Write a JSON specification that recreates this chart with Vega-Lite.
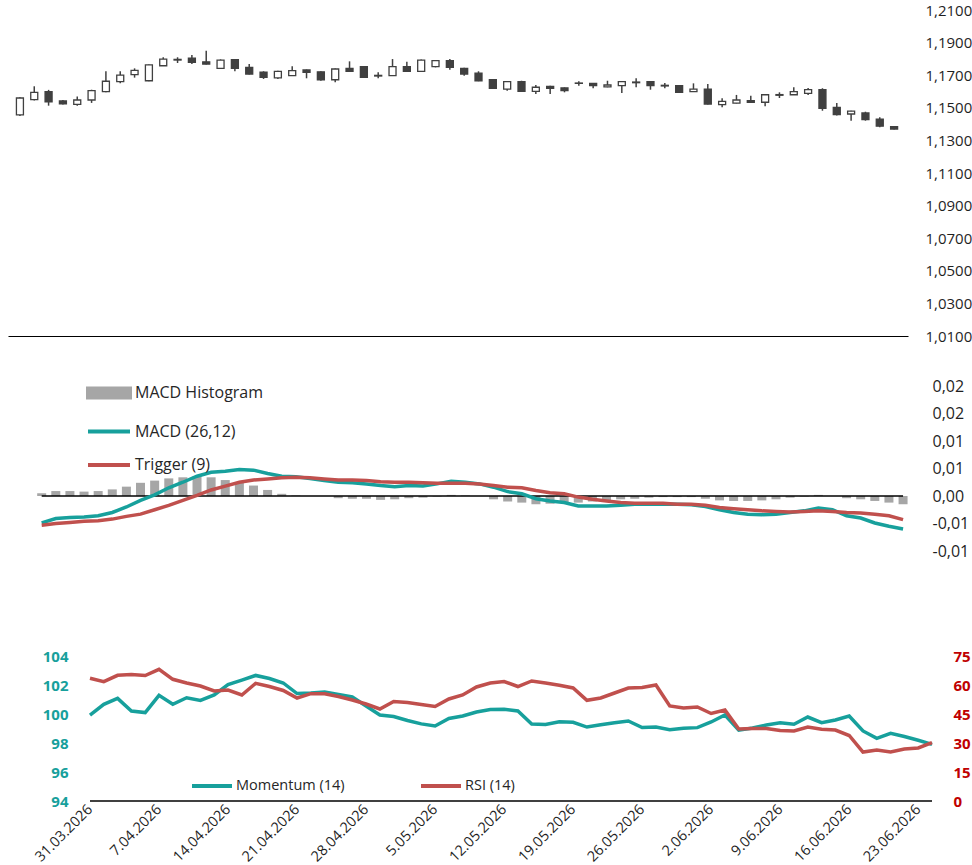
{
  "$schema": "https://vega.github.io/schema/vega-lite/v6.json",
  "padding": {"left": 8, "top": 3, "right": 0, "bottom": 0},
  "background": "white",
  "config": {
    "view": {"stroke": null},
    "font": "Open Sans",
    "axis": {"grid": false, "domain": false, "ticks": false, "tickSize": 0, "minExtent": 0, "labelColor": "#1f1f1f", "labelFont": "Open Sans", "labelOverlap": false, "labelFlush": false},
    "legend": {"labelFont": "Open Sans", "labelColor": "#262626", "padding": 0}
  },
  "data": {"values": [
    {"idx":0,"date":"31.03.2026","open":1.1456,"high":1.1565,"low":1.1450,"close":1.1560,"macd":-0.0049,"trigger":-0.0053,"hist":0.0005,"momentum":99.93,"rsi":63.47},
    {"idx":1,"date":"1.04.2026","open":1.1550,"high":1.1632,"low":1.1545,"close":1.1595,"macd":-0.0041,"trigger":-0.0050,"hist":0.0009,"momentum":100.67,"rsi":61.71},
    {"idx":2,"date":"2.04.2026","open":1.1599,"high":1.1610,"low":1.1513,"close":1.1537,"macd":-0.0039,"trigger":-0.0048,"hist":0.0009,"momentum":101.08,"rsi":65.02},
    {"idx":3,"date":"3.04.2026","open":1.1542,"high":1.1548,"low":1.1520,"close":1.1525,"macd":-0.0038,"trigger":-0.0046,"hist":0.0008,"momentum":100.21,"rsi":65.43},
    {"idx":4,"date":"6.04.2026","open":1.1521,"high":1.1570,"low":1.1513,"close":1.1548,"macd":-0.0036,"trigger":-0.0045,"hist":0.0009,"momentum":100.10,"rsi":64.91},
    {"idx":5,"date":"7.04.2026","open":1.1548,"high":1.1611,"low":1.1530,"close":1.1605,"macd":-0.0030,"trigger":-0.0042,"hist":0.0012,"momentum":101.29,"rsi":68.12},
    {"idx":6,"date":"8.04.2026","open":1.1599,"high":1.1724,"low":1.1595,"close":1.1663,"macd":-0.0020,"trigger":-0.0037,"hist":0.0017,"momentum":100.67,"rsi":62.95},
    {"idx":7,"date":"9.04.2026","open":1.1660,"high":1.1724,"low":1.1650,"close":1.1701,"macd":-0.0008,"trigger":-0.0033,"hist":0.0024,"momentum":101.12,"rsi":61.03},
    {"idx":8,"date":"10.04.2026","open":1.1703,"high":1.1742,"low":1.1685,"close":1.1730,"macd":0.0002,"trigger":-0.0025,"hist":0.0028,"momentum":100.94,"rsi":59.48},
    {"idx":9,"date":"13.04.2026","open":1.1666,"high":1.1766,"low":1.1663,"close":1.1763,"macd":0.0015,"trigger":-0.0017,"hist":0.0032,"momentum":101.31,"rsi":56.90},
    {"idx":10,"date":"14.04.2026","open":1.1758,"high":1.1810,"low":1.1756,"close":1.1799,"macd":0.0025,"trigger":-0.0008,"hist":0.0034,"momentum":102.03,"rsi":57.41},
    {"idx":11,"date":"15.04.2026","open":1.1797,"high":1.1810,"low":1.1775,"close":1.1793,"macd":0.0036,"trigger":0.0001,"hist":0.0036,"momentum":102.34,"rsi":54.83},
    {"idx":12,"date":"16.04.2026","open":1.1805,"high":1.1824,"low":1.1769,"close":1.1779,"macd":0.0043,"trigger":0.0011,"hist":0.0034,"momentum":102.66,"rsi":60.88},
    {"idx":13,"date":"17.04.2026","open":1.1782,"high":1.1850,"low":1.1765,"close":1.1768,"macd":0.0045,"trigger":0.0018,"hist":0.0029,"momentum":102.45,"rsi":59.22},
    {"idx":14,"date":"20.04.2026","open":1.1742,"high":1.1797,"low":1.1738,"close":1.1793,"macd":0.0048,"trigger":0.0025,"hist":0.0024,"momentum":102.14,"rsi":57.16},
    {"idx":15,"date":"21.04.2026","open":1.1795,"high":1.1797,"low":1.1724,"close":1.1742,"macd":0.0047,"trigger":0.0029,"hist":0.0019,"momentum":101.41,"rsi":53.28},
    {"idx":16,"date":"22.04.2026","open":1.1748,"high":1.1769,"low":1.1705,"close":1.1707,"macd":0.0041,"trigger":0.0031,"hist":0.0011,"momentum":101.45,"rsi":55.50},
    {"idx":17,"date":"23.04.2026","open":1.1718,"high":1.1724,"low":1.1677,"close":1.1687,"macd":0.0036,"trigger":0.0033,"hist":0.0004,"momentum":101.52,"rsi":55.50},
    {"idx":18,"date":"24.04.2026","open":1.1683,"high":1.1727,"low":1.1677,"close":1.1724,"macd":0.0035,"trigger":0.0034,"hist":0.0001,"momentum":101.34,"rsi":54.05},
    {"idx":19,"date":"27.04.2026","open":1.1697,"high":1.1755,"low":1.1695,"close":1.1728,"macd":0.0032,"trigger":0.0033,"hist":0.0000,"momentum":101.17,"rsi":52.24},
    {"idx":20,"date":"28.04.2026","open":1.1732,"high":1.1735,"low":1.1681,"close":1.1718,"macd":0.0028,"trigger":0.0031,"hist":0.0000,"momentum":100.55,"rsi":50.17},
    {"idx":21,"date":"29.04.2026","open":1.1721,"high":1.1724,"low":1.1666,"close":1.1672,"macd":0.0025,"trigger":0.0029,"hist":-0.0004,"momentum":99.93,"rsi":47.59},
    {"idx":22,"date":"30.04.2026","open":1.1672,"high":1.1741,"low":1.1656,"close":1.1738,"macd":0.0024,"trigger":0.0029,"hist":-0.0005,"momentum":99.83,"rsi":51.47},
    {"idx":23,"date":"1.05.2026","open":1.1742,"high":1.1785,"low":1.1720,"close":1.1724,"macd":0.0022,"trigger":0.0028,"hist":-0.0005,"momentum":99.55,"rsi":50.95},
    {"idx":24,"date":"4.05.2026","open":1.1752,"high":1.1755,"low":1.1684,"close":1.1687,"macd":0.0019,"trigger":0.0026,"hist":-0.0007,"momentum":99.32,"rsi":49.91},
    {"idx":25,"date":"5.05.2026","open":1.1699,"high":1.1718,"low":1.1681,"close":1.1695,"macd":0.0017,"trigger":0.0025,"hist":-0.0006,"momentum":99.17,"rsi":48.88},
    {"idx":26,"date":"6.05.2026","open":1.1697,"high":1.1799,"low":1.1695,"close":1.1752,"macd":0.0019,"trigger":0.0025,"hist":-0.0004,"momentum":99.69,"rsi":52.76},
    {"idx":27,"date":"7.05.2026","open":1.1752,"high":1.1783,"low":1.1721,"close":1.1724,"macd":0.0018,"trigger":0.0024,"hist":-0.0003,"momentum":99.86,"rsi":54.83},
    {"idx":28,"date":"8.05.2026","open":1.1724,"high":1.1796,"low":1.1720,"close":1.1793,"macd":0.0022,"trigger":0.0023,"hist":-0.0001,"momentum":100.14,"rsi":58.97},
    {"idx":29,"date":"11.05.2026","open":1.1752,"high":1.1793,"low":1.1748,"close":1.1789,"macd":0.0027,"trigger":0.0023,"hist":0.0002,"momentum":100.31,"rsi":61.03},
    {"idx":30,"date":"12.05.2026","open":1.1789,"high":1.1799,"low":1.1734,"close":1.1748,"macd":0.0025,"trigger":0.0023,"hist":0.0001,"momentum":100.33,"rsi":61.81},
    {"idx":31,"date":"13.05.2026","open":1.1742,"high":1.1745,"low":1.1697,"close":1.1707,"macd":0.0022,"trigger":0.0022,"hist":0.0000,"momentum":100.21,"rsi":59.22},
    {"idx":32,"date":"14.05.2026","open":1.1713,"high":1.1724,"low":1.1663,"close":1.1666,"macd":0.0016,"trigger":0.0019,"hist":-0.0006,"momentum":99.31,"rsi":62.07},
    {"idx":33,"date":"15.05.2026","open":1.1672,"high":1.1675,"low":1.1617,"close":1.1620,"macd":0.0008,"trigger":0.0016,"hist":-0.0010,"momentum":99.28,"rsi":61.03},
    {"idx":34,"date":"18.05.2026","open":1.1615,"high":1.1663,"low":1.1605,"close":1.1660,"macd":0.0004,"trigger":0.0015,"hist":-0.0012,"momentum":99.47,"rsi":59.84},
    {"idx":35,"date":"19.05.2026","open":1.1660,"high":1.1666,"low":1.1598,"close":1.1601,"macd":-0.0005,"trigger":0.0010,"hist":-0.0015,"momentum":99.43,"rsi":58.45},
    {"idx":36,"date":"20.05.2026","open":1.1601,"high":1.1640,"low":1.1585,"close":1.1626,"macd":-0.0009,"trigger":0.0006,"hist":-0.0014,"momentum":99.10,"rsi":52.09},
    {"idx":37,"date":"21.05.2026","open":1.1632,"high":1.1635,"low":1.1585,"close":1.1620,"macd":-0.0012,"trigger":0.0004,"hist":-0.0013,"momentum":99.26,"rsi":53.28},
    {"idx":38,"date":"22.05.2026","open":1.1622,"high":1.1625,"low":1.1595,"close":1.1605,"macd":-0.0018,"trigger":-0.0002,"hist":-0.0012,"momentum":99.40,"rsi":55.86},
    {"idx":39,"date":"25.05.2026","open":1.1652,"high":1.1663,"low":1.1636,"close":1.1650,"macd":-0.0018,"trigger":-0.0006,"hist":-0.0010,"momentum":99.52,"rsi":58.45},
    {"idx":40,"date":"26.05.2026","open":1.1650,"high":1.1652,"low":1.1620,"close":1.1636,"macd":-0.0018,"trigger":-0.0009,"hist":-0.0008,"momentum":99.07,"rsi":58.71},
    {"idx":41,"date":"27.05.2026","open":1.1628,"high":1.1666,"low":1.1626,"close":1.1640,"macd":-0.0017,"trigger":-0.0012,"hist":-0.0006,"momentum":99.10,"rsi":60.00},
    {"idx":42,"date":"28.05.2026","open":1.1636,"high":1.1665,"low":1.1591,"close":1.1660,"macd":-0.0015,"trigger":-0.0013,"hist":-0.0005,"momentum":98.92,"rsi":49.14},
    {"idx":43,"date":"29.05.2026","open":1.1658,"high":1.1681,"low":1.1626,"close":1.1654,"macd":-0.0015,"trigger":-0.0013,"hist":-0.0003,"momentum":99.02,"rsi":48.10},
    {"idx":44,"date":"1.06.2026","open":1.1660,"high":1.1663,"low":1.1611,"close":1.1636,"macd":-0.0015,"trigger":-0.0013,"hist":-0.0002,"momentum":99.06,"rsi":48.62},
    {"idx":45,"date":"2.06.2026","open":1.1638,"high":1.1652,"low":1.1620,"close":1.1634,"macd":-0.0015,"trigger":-0.0015,"hist":-0.0002,"momentum":99.45,"rsi":45.26},
    {"idx":46,"date":"3.06.2026","open":1.1636,"high":1.1638,"low":1.1592,"close":1.1595,"macd":-0.0016,"trigger":-0.0015,"hist":-0.0002,"momentum":99.93,"rsi":47.07},
    {"idx":47,"date":"4.06.2026","open":1.1599,"high":1.1650,"low":1.1597,"close":1.1615,"macd":-0.0019,"trigger":-0.0017,"hist":-0.0005,"momentum":98.88,"rsi":37.24},
    {"idx":48,"date":"5.06.2026","open":1.1615,"high":1.1646,"low":1.1520,"close":1.1523,"macd":-0.0025,"trigger":-0.0021,"hist":-0.0008,"momentum":99.03,"rsi":37.45},
    {"idx":49,"date":"8.06.2026","open":1.1519,"high":1.1558,"low":1.1503,"close":1.1540,"macd":-0.0030,"trigger":-0.0023,"hist":-0.0009,"momentum":99.24,"rsi":37.55},
    {"idx":50,"date":"9.06.2026","open":1.1529,"high":1.1579,"low":1.1527,"close":1.1548,"macd":-0.0033,"trigger":-0.0025,"hist":-0.0009,"momentum":99.40,"rsi":36.47},
    {"idx":51,"date":"10.06.2026","open":1.1544,"high":1.1574,"low":1.1532,"close":1.1534,"macd":-0.0034,"trigger":-0.0027,"hist":-0.0008,"momentum":99.29,"rsi":36.21},
    {"idx":52,"date":"11.06.2026","open":1.1534,"high":1.1583,"low":1.1509,"close":1.1580,"macd":-0.0033,"trigger":-0.0028,"hist":-0.0006,"momentum":99.79,"rsi":38.28},
    {"idx":53,"date":"12.06.2026","open":1.1581,"high":1.1595,"low":1.1560,"close":1.1577,"macd":-0.0030,"trigger":-0.0029,"hist":-0.0003,"momentum":99.40,"rsi":37.09},
    {"idx":54,"date":"15.06.2026","open":1.1580,"high":1.1626,"low":1.1578,"close":1.1599,"macd":-0.0027,"trigger":-0.0028,"hist":-0.0001,"momentum":99.59,"rsi":36.72},
    {"idx":55,"date":"16.06.2026","open":1.1589,"high":1.1621,"low":1.1579,"close":1.1611,"macd":-0.0022,"trigger":-0.0027,"hist":0.0002,"momentum":99.86,"rsi":33.88},
    {"idx":56,"date":"17.06.2026","open":1.1611,"high":1.1620,"low":1.1482,"close":1.1497,"macd":-0.0025,"trigger":-0.0028,"hist":0.0000,"momentum":98.83,"rsi":25.34},
    {"idx":57,"date":"18.06.2026","open":1.1503,"high":1.1529,"low":1.1452,"close":1.1458,"macd":-0.0036,"trigger":-0.0030,"hist":-0.0004,"momentum":98.32,"rsi":26.38},
    {"idx":58,"date":"19.06.2026","open":1.1462,"high":1.1482,"low":1.1421,"close":1.1479,"macd":-0.0040,"trigger":-0.0031,"hist":-0.0006,"momentum":98.67,"rsi":25.34},
    {"idx":59,"date":"22.06.2026","open":1.1468,"high":1.1476,"low":1.1421,"close":1.1427,"macd":-0.0049,"trigger":-0.0033,"hist":-0.0009,"momentum":98.45,"rsi":26.90},
    {"idx":60,"date":"23.06.2026","open":1.1431,"high":1.1442,"low":1.1380,"close":1.1387,"macd":-0.0055,"trigger":-0.0036,"hist":-0.0012,"momentum":98.19,"rsi":27.41},
    {"idx":61,"date":"24.06.2026","open":1.1384,"high":1.1387,"low":1.1367,"close":1.1370,"macd":-0.0060,"trigger":-0.0043,"hist":-0.0015,"momentum":97.91,"rsi":30.16}
  ]},
  "spacing": 34,
  "vconcat": [
    {
      "width": 900,
      "height": 326,
      "encoding": {
        "x": {"field": "idx", "type": "quantitative",
              "scale": {"domain": [-0.483, 61.621], "nice": false, "zero": false},
              "axis": {"domain": true, "domainColor": "#000000", "domainWidth": 1, "labels": false, "ticks": false, "title": null}}
      },
      "layer": [
        {
          "mark": {"type": "rule", "color": "#404040", "strokeWidth": 1.5},
          "encoding": {
            "y": {"field": "low", "type": "quantitative",
                  "scale": {"domain": [1.01, 1.21], "zero": false, "nice": false},
                  "axis": {"orient": "right", "values": [1.01, 1.03, 1.05, 1.07, 1.09, 1.11, 1.13, 1.15, 1.17, 1.19, 1.21], "tickCount": 50,
                           "labelExpr": "replace(format(datum.value, '.4f'), '.', ',')", "labelOverlap": false,
                           "labelFontSize": 15, "labelPadding": 17, "title": null}},
            "y2": {"field": "high"}
          }
        },
        {
          "mark": {"type": "bar", "width": 7, "stroke": "#404040", "strokeWidth": 1.3},
          "encoding": {
            "y": {"field": "open", "type": "quantitative"},
            "y2": {"field": "close"},
            "fill": {"condition": {"test": "datum.close > datum.open", "value": "#ffffff"}, "value": "#404040"}
          }
        }
      ]
    },
    {
      "spacing": 90,
      "resolve": {"scale": {"color": "independent"}, "legend": {"color": "independent"}},
      "vconcat": [
        {
          "width": 905,
          "height": 165,
          "encoding": {
            "x": {"field": "idx", "type": "quantitative",
                  "scale": {"domain": [-2.031, 61.35], "nice": false, "zero": false}, "axis": null}
          },
          "layer": [
            {
              "mark": {"type": "bar", "width": 9},
              "encoding": {
                "y": {"field": "hist", "type": "quantitative",
                      "scale": {"domain": [-0.01, 0.02], "zero": false, "nice": false},
                      "axis": {"orient": "right", "values": [-0.01, -0.005, 0, 0.005, 0.01, 0.015, 0.02], "tickCount": 50,
                               "labelExpr": "replace(replace(format(datum.value + (datum.value < 0 ? -0.000000001 : 0.000000001), '.2f'), '.', ','), '\u2212', '-')",
                               "labelOverlap": false, "labelFontSize": 16, "labelPadding": 19, "title": null}},
                "y2": {"datum": 0},
                "color": {"datum": "MACD Histogram", "type": "nominal",
                          "scale": {"domain": ["MACD Histogram", "MACD (26,12)", "Trigger (9)"], "range": ["#a6a6a6", "#17a09c", "#c0504d"]},
                          "legend": {"orient": "none", "legendX": 88.5, "legendY": -5.5, "direction": "vertical", "title": null,
                                     "labelFontSize": 16, "labelOffset": 13.5, "symbolSize": 441, "symbolType": "M-2,0H2",
                                     "symbolStrokeWidth": 4, "rowPadding": 12.5,
                                     "encode": {"symbols": {"update": {
                                       "shape": {"signal": "datum.value === 'MACD Histogram' ? 'M-2,-0.43H2V0.43H-2Z' : 'M-2,0H2'"},
                                       "fill": {"signal": "datum.value === 'MACD Histogram' ? '#a6a6a6' : 'transparent'"},
                                       "stroke": {"signal": "datum.value === 'MACD (26,12)' ? '#17a09c' : (datum.value === 'Trigger (9)' ? '#c0504d' : 'transparent')"},
                                       "opacity": {"value": 1}
                                     }}}}}
              }
            },
            {
              "mark": {"type": "line", "color": "#000000", "strokeWidth": 1.5},
              "encoding": {"y": {"datum": 0, "type": "quantitative"}}
            },
            {
              "mark": {"type": "line", "strokeWidth": 3.5},
              "encoding": {"y": {"field": "macd", "type": "quantitative"}, "color": {"datum": "MACD (26,12)", "type": "nominal"}}
            },
            {
              "mark": {"type": "line", "strokeWidth": 3.5},
              "encoding": {"y": {"field": "trigger", "type": "quantitative"}, "color": {"datum": "Trigger (9)", "type": "nominal"}}
            }
          ]
        },
        {
          "width": 927,
          "height": 145,
          "encoding": {
            "x": {"field": "idx", "type": "quantitative",
                  "scale": {"domain": [-5.94, 61.217], "nice": false, "zero": false},
                  "axis": {"values": [0, 5, 10, 15, 20, 25, 30, 35, 40, 45, 50, 55, 60], "tickCount": 50,
                           "labelExpr": "['31.03.2026', '7.04.2026', '14.04.2026', '21.04.2026', '28.04.2026', '5.05.2026', '12.05.2026', '19.05.2026', '26.05.2026', '2.06.2026', '9.06.2026', '16.06.2026', '23.06.2026'][round(datum.value / 5)]",
                           "domain": false, "labelOverlap": false, "labelAngle": -45, "labelAlign": "right", "labelBaseline": "middle", "labelFontSize": 14.5,
                           "labelPadding": 6, "labelColor": "#1f1f1f", "title": null}}
          },
          "layer": [
            {
              "layer": [
                {
                  "mark": {"type": "line", "color": "#000000", "strokeWidth": 1.5},
                  "encoding": {"y": {"datum": 94, "type": "quantitative"}}
                },
                {
                  "mark": {"type": "line", "strokeWidth": 3.5},
                  "encoding": {
                    "y": {"field": "momentum", "type": "quantitative",
                          "scale": {"domain": [94, 104], "zero": false, "nice": false},
                          "axis": {"orient": "left", "offset": -72, "values": [94, 96, 98, 100, 102, 104], "tickCount": 50, "format": ".0f", "labelOverlap": false,
                                   "labelFontSize": 15, "labelFontWeight": "bold", "labelColor": "#17a09c", "labelPadding": 12, "title": null}},
                    "color": {"datum": "Momentum (14)", "type": "nominal",
                              "scale": {"domain": ["Momentum (14)", "RSI (14)"], "range": ["#17a09c", "#c0504d"]},
                              "legend": {"orient": "none", "legendX": 182, "legendY": 108, "direction": "horizontal", "title": null,
                                         "labelFontSize": 14.5, "labelOffset": 2, "symbolSize": 1600, "symbolType": "stroke",
                                         "symbolStrokeWidth": 4, "columnPadding": 68}}
                  }
                }
              ]
            },
            {
              "mark": {"type": "line", "strokeWidth": 3.5},
              "encoding": {
                "y": {"field": "rsi", "type": "quantitative",
                      "scale": {"domain": [0, 75], "zero": false, "nice": false},
                      "axis": {"orient": "right", "values": [0, 15, 30, 45, 60, 75], "tickCount": 50, "format": ".0f", "labelOverlap": false,
                               "labelFontSize": 15, "labelFontWeight": "bold", "labelColor": "#c00000", "labelPadding": 18, "title": null}},
                "color": {"datum": "RSI (14)", "type": "nominal"}
              }
            }
          ],
          "resolve": {"scale": {"y": "independent"}, "axis": {"y": "independent"}}
        }
      ]
    }
  ]
}
